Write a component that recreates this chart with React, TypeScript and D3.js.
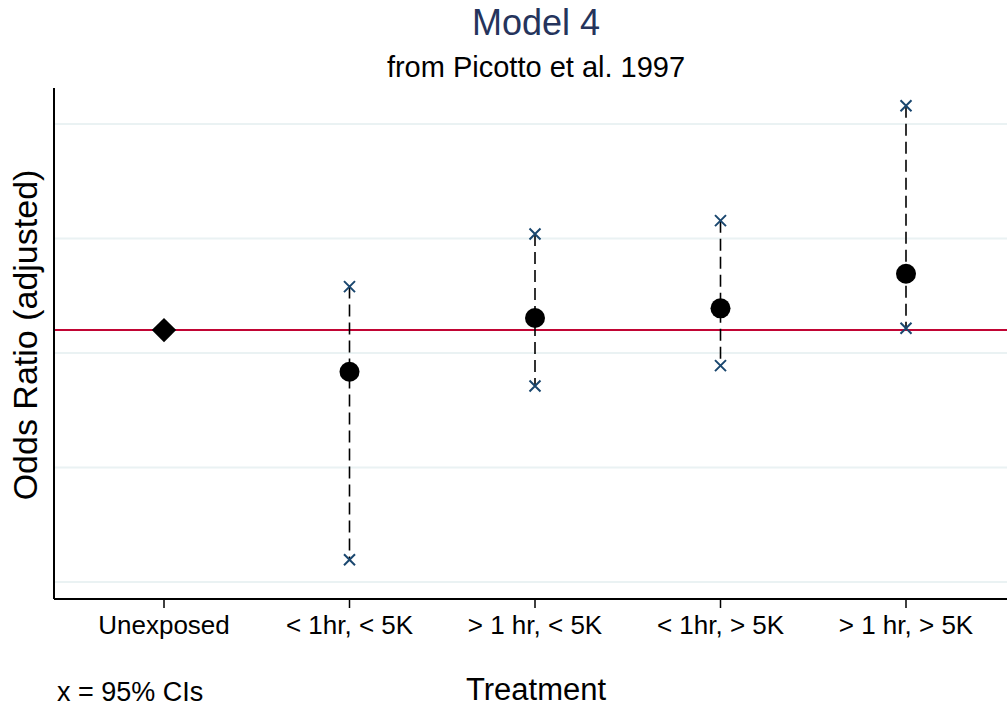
import * as d3 from "d3";

const W = 1007;
const H = 708;
const PLOT = { left: 54, right: 1007, top: 88, bottom: 599 };

const categories = ["Unexposed", "< 1hr, < 5K", "> 1 hr, < 5K", "< 1hr, > 5K", "> 1 hr, > 5K"];
const estimates = [1.1, 0.918, 1.153, 1.195, 1.346];
const ciLower = [null, 0.097, 0.856, 0.945, 1.108];
const ciUpper = [null, 1.29, 1.52, 1.578, 2.08];
const gridValues = [0, 0.5, 1, 1.5, 2];
const refValue = 1.1;

const x = d3.scaleLinear().domain([0, categories.length - 1]).range([164, 906]);
const y = d3.scaleLinear().domain([0, 2]).range([582, 124]);

const FONT = "'Liberation Sans', Arial, Helvetica, sans-serif";
const NAVY = "#1a476f";

function Cross({ cx, cy }: { cx: number; cy: number }) {
  const s = 5.5;
  return (
    <path
      d={`M${cx - s},${cy - s}L${cx + s},${cy + s}M${cx - s},${cy + s}L${cx + s},${cy - s}`}
      stroke={NAVY}
      strokeWidth={2}
      fill="none"
    />
  );
}

export default function App() {
  const diamond = d3.symbol(d3.symbolDiamond2, 380)();
  return (
    <svg width={W} height={H} style={{ display: "block", position: "absolute", left: 0, top: 0 }} fontFamily={FONT}>
      <rect width={W} height={H} fill="#fff" />
      <text x={536} y={35} textAnchor="middle" fontSize={36} fill="#25345c">Model 4</text>
      <text x={536} y={77} textAnchor="middle" fontSize={29} fill="#000">from Picotto et al. 1997</text>

      {gridValues.map((v) => (
        <line key={v} x1={PLOT.left} x2={PLOT.right} y1={y(v)} y2={y(v)} stroke="#eaf2f3" strokeWidth={2} />
      ))}

      <line x1={PLOT.left} x2={PLOT.right} y1={y(refValue)} y2={y(refValue)} stroke="#c10534" strokeWidth={2} />

      {categories.map((c, i) => {
        const lo = ciLower[i];
        const hi = ciUpper[i];
        if (lo == null || hi == null) return null;
        return (
          <g key={c}>
            <line x1={x(i)} x2={x(i)} y1={y(hi)} y2={y(lo)} stroke="#000" strokeWidth={1.6} strokeDasharray="12,6" />
            <Cross cx={x(i)} cy={y(hi)} />
            <Cross cx={x(i)} cy={y(lo)} />
          </g>
        );
      })}

      {categories.map((c, i) =>
        i === 0 ? (
          <path key={c} d={diamond ?? ""} transform={`translate(${x(i)},${y(estimates[i])})`} fill="#000" />
        ) : (
          <circle key={c} cx={x(i)} cy={y(estimates[i])} r={10} fill="#000" />
        )
      )}

      <line x1={PLOT.left} x2={PLOT.left} y1={PLOT.top} y2={PLOT.bottom} stroke="#000" strokeWidth={2} />
      <line x1={PLOT.left} x2={PLOT.right} y1={PLOT.bottom} y2={PLOT.bottom} stroke="#000" strokeWidth={2} />

      {categories.map((c, i) => (
        <g key={c}>
          <line x1={x(i)} x2={x(i)} y1={PLOT.bottom} y2={PLOT.bottom + 9} stroke="#000" strokeWidth={1.5} />
          <text x={x(i)} y={634} textAnchor="middle" fontSize={26} fill="#000">{c}</text>
        </g>
      ))}

      <text x={536} y={700} textAnchor="middle" fontSize={31} fill="#000">Treatment</text>
      <text x={57} y={701} fontSize={27} fill="#000">x = 95% CIs</text>
      <text transform={`translate(37,335) rotate(-90)`} textAnchor="middle" fontSize={34} fill="#000">
        Odds Ratio (adjusted)
      </text>
    </svg>
  );
}
